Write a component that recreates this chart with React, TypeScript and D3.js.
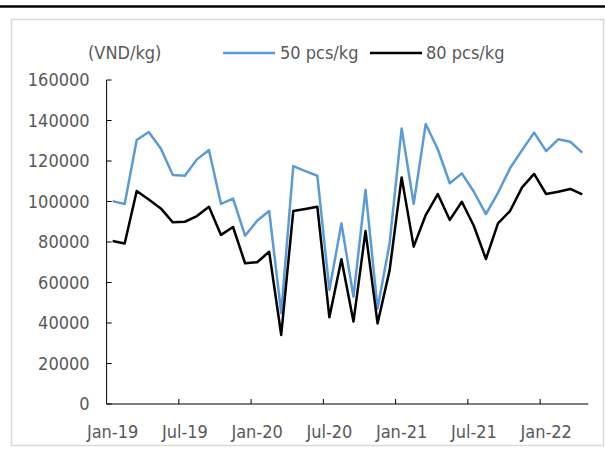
import React from "react";
import * as d3 from "d3";

const months = [
  "Jan-19","Feb-19","Mar-19","Apr-19","May-19","Jun-19","Jul-19","Aug-19","Sep-19","Oct-19","Nov-19","Dec-19",
  "Jan-20","Feb-20","Mar-20","Apr-20","May-20","Jun-20","Jul-20","Aug-20","Sep-20","Oct-20","Nov-20","Dec-20",
  "Jan-21","Feb-21","Mar-21","Apr-21","May-21","Jun-21","Jul-21","Aug-21","Sep-21","Oct-21","Nov-21","Dec-21",
  "Jan-22","Feb-22","Mar-22","Apr-22",
];

const series50 = [
  100200, 98800, 130400, 134300, 126200, 113100, 112700, 120800, 125400, 98800, 101400, 83100,
  90500, 95300, 44900, 117500, 115000, 112700, 56300, 89200, 53000, 105700, 47200, 79300,
  136100, 98800, 138300, 125800, 109000, 113900, 104800, 93800, 104300, 116400, 125400, 134000,
  124900, 130700, 129500, 124100,
];

const series80 = [
  80500, 79300, 105200, 101000, 96600, 89700, 90000, 92800, 97400, 83500, 87400, 69500,
  70000, 75200, 34100, 95300, 96300, 97400, 42800, 71500, 40700, 85400, 39800, 66000,
  111900, 77700, 93300, 103700, 90900, 99900, 87900, 71600, 89200, 95300, 107000, 113600,
  103700, 104800, 106200, 103500,
];

const yTicks = [0, 20000, 40000, 60000, 80000, 100000, 120000, 140000, 160000];
const xLabelIdx = [0, 6, 12, 18, 24, 30, 36];

const legendItems = [
  { label: "50 pcs/kg", color: "#5B9BD5" },
  { label: "80 pcs/kg", color: "#000000" },
];

const FONT = "Tahoma, 'DejaVu Sans Condensed', 'DejaVu Sans', sans-serif";

export default function App() {
  const W = 605, H = 457;
  const left = 106.6, right = 588.3, top = 80, bottom = 404;
  const x = d3.scaleBand<number>().domain(d3.range(months.length)).range([left, right]).padding(0);
  const y = d3.scaleLinear().domain([0, 160000]).range([bottom, top]);
  const cx = (i: number) => (x(i) as number) + x.bandwidth() / 2;
  const line = d3.line<number>().x((_, i) => cx(i)).y((d) => y(d));
  const textColor = "#595959";
  const tickBoundaries = d3.range(6, months.length, 6);
  const fs = 18;

  return (
    <svg width={W} height={H} style={{ position: "absolute", left: 0, top: 0 }}>
      <rect x={0} y={0} width={W} height={H} fill="#fff" />
      <line x1={0} x2={W} y1={6.5} y2={6.5} stroke="#000" strokeWidth={2.5} />
      <rect x={11.5} y={19.5} width={592} height={426} fill="#fff" stroke="#d9d9d9" strokeWidth={1.5} />
      {/* y axis */}
      <line x1={left} x2={left} y1={top} y2={bottom} stroke="#000" strokeWidth={1} />
      {yTicks.map((t) => (
        <g key={t}>
          <line x1={left} x2={left + 5} y1={y(t)} y2={y(t)} stroke="#000" strokeWidth={1} />
          <text x={left - 17} y={y(t)} dy="0.35em" textAnchor="end" fontFamily={FONT} fontSize={fs} fill={textColor}>
            {t}
          </text>
        </g>
      ))}
      {/* x axis */}
      <line x1={left} x2={right} y1={bottom} y2={bottom} stroke="#000" strokeWidth={1} />
      {tickBoundaries.map((i) => (
        <line key={i} x1={x(i) as number} x2={x(i) as number} y1={bottom} y2={bottom - 5} stroke="#000" strokeWidth={1} />
      ))}
      {xLabelIdx.map((i) => (
        <text key={i} x={cx(i)} y={bottom + 34} textAnchor="middle" fontFamily={FONT} fontSize={fs} fill={textColor}>
          {months[i]}
        </text>
      ))}
      {/* lines */}
      <path d={line(series50) as string} fill="none" stroke={legendItems[0].color} strokeWidth={2.5} strokeLinejoin="round" />
      <path d={line(series80) as string} fill="none" stroke={legendItems[1].color} strokeWidth={2.5} strokeLinejoin="round" />
      {/* legend */}
      <text x={88} y={59} fontFamily={FONT} fontSize={fs} fill={textColor}>(VND/kg)</text>
      <line x1={223} x2={275} y1={53} y2={53} stroke={legendItems[0].color} strokeWidth={2.5} />
      <text x={280} y={59} fontFamily={FONT} fontSize={fs} fill={textColor}>{legendItems[0].label}</text>
      <line x1={370} x2={422} y1={53} y2={53} stroke={legendItems[1].color} strokeWidth={2.5} />
      <text x={426} y={59} fontFamily={FONT} fontSize={fs} fill={textColor}>{legendItems[1].label}</text>
    </svg>
  );
}
